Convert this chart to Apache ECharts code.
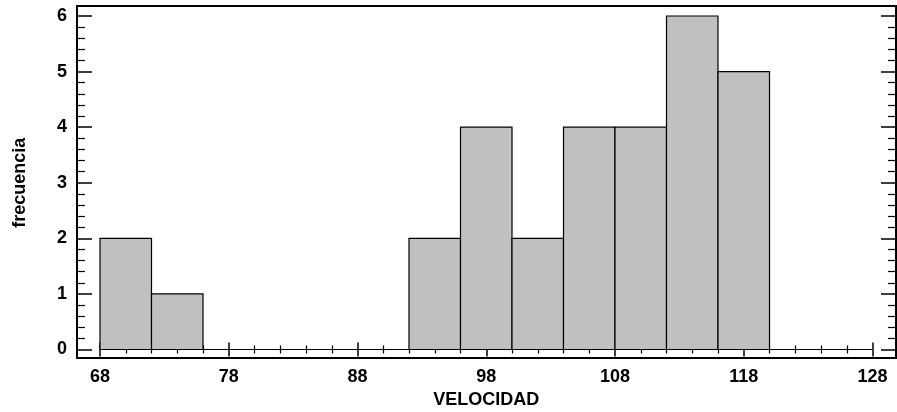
<!DOCTYPE html>
<html>
<head>
<meta charset="utf-8">
<script src="https://cdn.jsdelivr.net/npm/echarts@6/dist/echarts.min.js"></script>
<style>
  html, body { margin: 0; padding: 0; background: #fff; }
  #main { width: 897px; height: 412px; }
</style>
</head>
<body>
<div id="main"></div>
<script>
// histograma de velocidad, clases de ancho 4
const binStart = [68, 72, 76, 80, 84, 88, 92, 96, 100, 104, 108, 112, 116, 120, 124];
const binWidth = 4;
const frecuencia = [2, 1, 0, 0, 0, 0, 2, 4, 2, 4, 4, 6, 5, 0, 0];
const xTicks = [68, 78, 88, 98, 108, 118, 128];
const yTicks = [0, 1, 2, 3, 4, 5, 6];

const chart = echarts.init(document.getElementById("main"));

function txt() {
  return { fontFamily: "Liberation Sans", fontWeight: "bold", fontSize: 18, color: "#000" };
}

// ejes con ticks hacia dentro, sin linea (el marco lo dibuja el grid 1)
function xAx(pos, offset, showLabel) {
  const lab = txt();
  lab.show = showLabel;
  lab.margin = 10;
  return {
    type: "value", gridIndex: 0, position: pos, offset: offset,
    min: xTicks[0], max: xTicks[xTicks.length - 1], interval: 10,
    axisLine: { show: false },
    axisTick: { show: true, inside: true, length: 7, lineStyle: { color: "#000", width: 1.5 } },
    minorTick: { show: true, splitNumber: 5, length: 4, lineStyle: { color: "#000", width: 1.2 } },
    axisLabel: lab,
    splitLine: { show: false },
  };
}
function yAx(pos, offset, showLabel) {
  const lab = txt();
  lab.show = showLabel;
  lab.margin = 10;
  return {
    type: "value", gridIndex: 0, position: pos, offset: offset,
    min: yTicks[0], max: yTicks[yTicks.length - 1], interval: 1,
    axisLine: { show: false },
    axisTick: { show: true, inside: true, length: 15, lineStyle: { color: "#000", width: 1.5 } },
    minorTick: { show: true, splitNumber: 5, length: 8, lineStyle: { color: "#000", width: 1.2 } },
    axisLabel: lab,
    splitLine: { show: false },
  };
}

const xBottom = xAx("bottom", 8.5, true);
xBottom.name = "VELOCIDAD";
xBottom.nameLocation = "middle";
xBottom.nameGap = 33;
xBottom.nameTextStyle = txt();

const yLeft = yAx("left", 23, true);
yLeft.name = "frecuencia";
yLeft.nameLocation = "middle";
yLeft.nameGap = 48;
yLeft.nameTextStyle = txt();

const data = binStart.map((b, i) => [b, b + binWidth, frecuencia[i]]);

const options = {
  animation: false,
  textStyle: { fontFamily: "Liberation Sans" },
  grid: [
    { left: 100, right: 24.5, top: 16, bottom: 62.5, outerBoundsMode: "none" },
    { left: 77, top: 6, width: 819, height: 352, show: true, borderColor: "#000", borderWidth: 2, backgroundColor: "transparent", outerBoundsMode: "none" },
  ],
  xAxis: [
    xBottom,
    xAx("top", 10, false),
    { type: "value", gridIndex: 1, show: false },
  ],
  yAxis: [
    yLeft,
    yAx("right", 23.5, false),
    { type: "value", gridIndex: 1, show: false },
  ],
  series: [
    {
      type: "custom",
      xAxisIndex: 0,
      yAxisIndex: 0,
      data: data,
      encode: { x: [0, 1], y: 2 },
      renderItem: function (params, api) {
        const p0 = api.coord([api.value(0), api.value(2)]);
        const p1 = api.coord([api.value(1), 0]);
        return {
          type: "rect",
          shape: { x: p0[0], y: p0[1], width: p1[0] - p0[0], height: p1[1] - p0[1] },
          style: { fill: "#c0c0c0", stroke: "#000", lineWidth: 1.2 },
        };
      },
    },
  ],
};

chart.setOption(options);
</script>
</body>
</html>
